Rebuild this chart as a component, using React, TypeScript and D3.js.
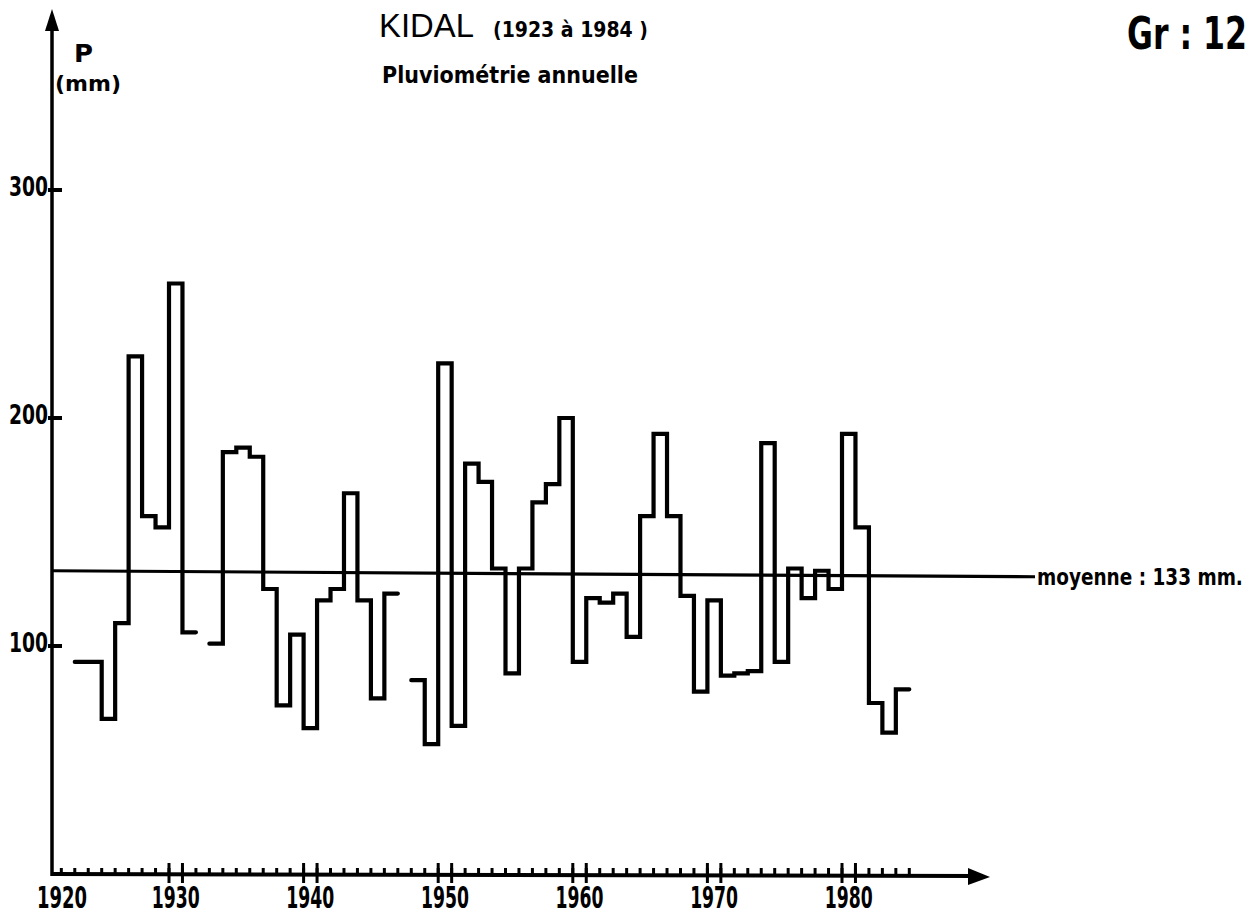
import React from "react";
import * as d3 from "d3";

// Annual rainfall at Kidal (mm); null = no data
const years: number[] = d3.range(1923, 1985);
const rainfall: (number | null)[] = [
  93, 93, 68, 110, 227, 157, 152, 259, 106, null, // 1923-1932
  101, 185, 187, 183, 125, 74, 105, 64, 120, 125, // 1933-1942
  167, 120, 77, 123, null, 85, 57, 224, 65, 180, // 1943-1952
  172, 134, 88, 134, 163, 171, 200, 93, 121, 119, // 1953-1962
  123, 104, 157, 193, 157, 122, 80, 120, 87, 88, // 1963-1972
  89, 189, 93, 134, 121, 133, 125, 193, 152, 75, // 1973-1982
  62, 81, // 1983-1984
];
const meanValue = 133;
const yTickValues = [100, 200, 300];
const decadeLabels = [1930, 1940, 1950, 1960, 1970, 1980];
const originLabel = "1920";

const W = 1259;
const H = 918;
const BOLD = "'DejaVu Sans', 'Liberation Sans', Arial, sans-serif";
const THIN = "'Liberation Sans', Arial, sans-serif";

let ctx: CanvasRenderingContext2D | null = null;
function measure(text: string, size: number, weight: string, family: string): number {
  if (!ctx) {
    const c = document.createElement("canvas");
    ctx = c.getContext("2d");
  }
  if (!ctx) return text.length * size * 0.6;
  ctx.font = `${weight} ${size}px ${family}`;
  return ctx.measureText(text).width || text.length * size * 0.6;
}

type FitProps = {
  x: number;
  y: number;
  width: number;
  size: number;
  text: string;
  weight?: string;
  family?: string;
  anchor?: "start" | "middle" | "end";
};

function FitText({ x, y, width, size, text, weight = "bold", family = BOLD, anchor = "start" }: FitProps) {
  const natural = measure(text, size, weight, family);
  const sx = width / natural;
  const x0 = anchor === "middle" ? x - width / 2 : anchor === "end" ? x - width : x;
  return (
    <text
      transform={`translate(${x0},${y}) scale(${sx},1)`}
      x={0}
      y={0}
      fontSize={size}
      fontWeight={weight}
      fontFamily={family}
      fill="#000"
    >
      {text}
    </text>
  );
}

export default function App() {
  const x = d3.scaleLinear().domain([1930, 1980]).range([169, 842]);
  const y = d3.scaleLinear().domain([0, 300]).range([874, 190]);
  const X0 = 52;
  const Y0 = y(0);
  const xEnd = 990;

  // split into continuous runs
  const runs: [number, number][][] = [];
  let cur: [number, number][] = [];
  years.forEach((yr, i) => {
    const v = rainfall[i];
    if (v == null) {
      if (cur.length) runs.push(cur);
      cur = [];
    } else {
      cur.push([yr, v]);
    }
  });
  if (cur.length) runs.push(cur);

  const line = d3
    .line<[number, number]>()
    .x((d) => x(d[0]))
    .y((d) => y(d[1]))
    .curve(d3.curveStepAfter);

  const paths = runs.map((r) => {
    const last = r[r.length - 1];
    return line([...r, [last[0] + 1, last[1]]]) as string;
  });

  const yearTicks = d3.range(1922, 1986);

  return (
    <svg
      width={W}
      height={H}
      style={{ position: "absolute", left: 0, top: 0, background: "#fff" }}
      fontFamily={BOLD}
    >
      <rect x={0} y={0} width={W} height={H} fill="#fff" />
      {/* Titles */}
      <FitText x={379} y={37} width={95} size={33} weight="normal" family={THIN} text="KIDAL" />
      <FitText x={493} y={37} width={155} size={22} text="(1923 à 1984 )" />
      <FitText x={382} y={83} width={256} size={23} text="Pluviométrie annuelle" />
      <FitText x={1127} y={49} width={120} size={44} text="Gr : 12" />

      {/* Y axis */}
      <line x1={X0} y1={Y0 + 2} x2={X0} y2={22} stroke="#000" strokeWidth={3.5} />
      <path d={`M${X0},9 L${X0 - 7},31 L${X0 + 7},31 Z`} fill="#000" />
      <FitText x={74} y={62} width={19} size={25} text="P" />
      <FitText x={55} y={91} width={66} size={22} text="(mm)" />
      {yTickValues.map((v) => (
        <g key={v}>
          <line x1={X0 - 4} x2={X0 + 10} y1={y(v)} y2={y(v)} stroke="#000" strokeWidth={4} />
          <FitText x={48} y={y(v) + 6} width={39} size={26} anchor="end" text={String(v)} />
        </g>
      ))}

      {/* X axis */}
      <line x1={X0} y1={Y0} x2={xEnd - 12} y2={Y0 + 2} stroke="#000" strokeWidth={4} />
      <path d={`M${xEnd},${Y0 + 3} L${xEnd - 22},${Y0 - 6} L${xEnd - 22},${Y0 + 11} Z`} fill="#000" />
      {yearTicks.map((t) => (
        <line key={t} x1={x(t)} x2={x(t)} y1={Y0 - 6} y2={Y0} stroke="#000" strokeWidth={3} />
      ))}
      {decadeLabels.map((d) => (
        <g key={d}>
          <line x1={x(d)} x2={x(d)} y1={Y0 - 11} y2={Y0 + 9} stroke="#000" strokeWidth={3} />
          <line x1={x(d + 1)} x2={x(d + 1)} y1={Y0 - 11} y2={Y0 + 9} stroke="#000" strokeWidth={3} />
          <FitText x={x(d + 0.5)} y={908} width={48} size={30} anchor="middle" text={String(d)} />
        </g>
      ))}
      <FitText x={X0 + 10} y={908} width={50} size={30} anchor="middle" text={originLabel} />

      {/* Mean line */}
      <line x1={X0} x2={1035} y1={y(meanValue)} y2={y(meanValue) + 6} stroke="#000" strokeWidth={3.2} />
      <FitText x={1037} y={585} width={206} size={23} text="moyenne : 133 mm." />

      {/* Rainfall steps */}
      {paths.map((p, i) => (
        <path key={i} d={p} fill="none" stroke="#000" strokeWidth={4.2} strokeLinejoin="miter" strokeLinecap="round" />
      ))}
    </svg>
  );
}
